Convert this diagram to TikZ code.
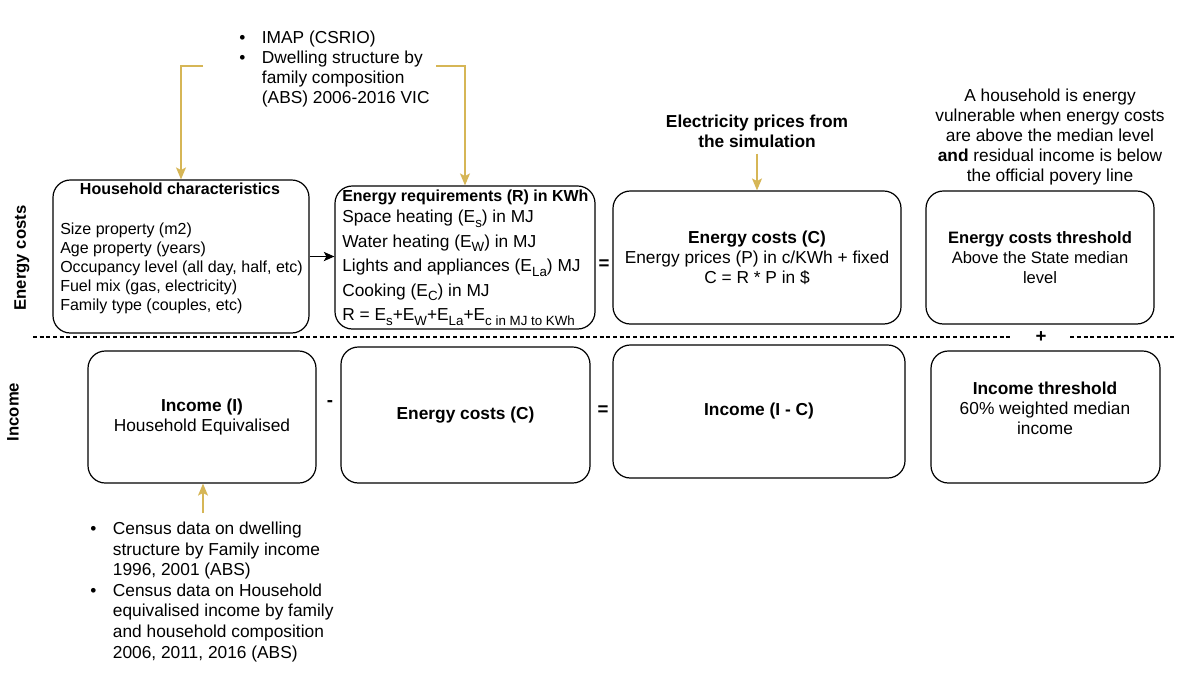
\documentclass[tikz,border=0pt]{standalone}
\usepackage{fontspec}
\setmainfont{Liberation Sans}
\usetikzlibrary{arrows.meta}
\definecolor{goldline}{HTML}{D6B656}
\newcommand{\txt}{\fontsize{13}{15}\selectfont}
\newcommand{\txts}{\fontsize{12}{15}\selectfont}
\newcommand{\blt}{\makebox[17pt][l]{\textbullet}}
\newcommand{\ind}{\hspace*{17pt}}
\newcommand{\sub}[1]{\raisebox{-3.2pt}{\fontsize{10}{10}\selectfont #1}}
\tikzset{
  box/.style={draw=black, line width=0.9pt, rounded corners=13pt, align=center, font=\txt},
  lbl/.style={inner sep=0pt, align=left, font=\txt},
  op/.style={inner sep=0pt, font=\fontsize{14}{15}\selectfont\bfseries},
  goldarr/.style={draw=goldline, line width=1pt, -{Stealth[inset=2pt, length=9pt, width=7.5pt]}},
  blackarr/.style={draw=black, line width=0.9pt, -{Stealth[inset=2pt, length=8pt, width=7pt]}},
  sep/.style={draw=black, line width=0.8pt, dash pattern=on 3pt off 2pt}
}
\begin{document}
\begin{tikzpicture}[x=0.75pt, y=-0.75pt]
    \useasboundingbox (0,0) rectangle (1192,694);

    % row labels
    \node[lbl, font=\fontsize{12.5}{15}\selectfont\bfseries, rotate=90] (rowcost) at (22,258) {Energy costs};
    \node[lbl, font=\fontsize{12.5}{15}\selectfont\bfseries, rotate=90] (rowinc) at (13,412) {Income};

    % energy costs row
    \node[box, minimum width=192pt, minimum height=114.75pt] (hc) at (181,256.5) {};
    \node[lbl, font=\txts\bfseries, anchor=north] (hctitle) at (180,183) {Household characteristics};
    \node[lbl, font=\fontsize{12}{14.25}\selectfont, anchor=north west] (hclist) at (60,223)
        {Size property (m2)\\Age property (years)\\Occupancy level (all day, half, etc)\\Fuel mix (gas, electricity)\\Family type (couples, etc)};

    \node[box, minimum width=195pt, minimum height=107.25pt] (er) at (465,257.5) {};
    \node[lbl, font=\txts\bfseries, anchor=north west] (ertitle) at (342,190) {Energy requirements (R) in KWh};
    \node[lbl, font=\fontsize{13}{18.4}\selectfont, anchor=north west] (erlist) at (342,210)
        {Space heating (E\sub{s}) in MJ\\ Water heating (E\sub{W}) in MJ\\ Lights and appliances (E\sub{La}) MJ\\ Cooking (E\sub{C}) in MJ\\ R = E\sub{s}+E\sub{W}+E\sub{La}+E\sub{c in MJ to KWh}};

    \node[box, minimum width=216pt, minimum height=99.75pt] (ec) at (757,257.5)
        {\textbf{Energy costs (C)}\\Energy prices (P) in c/KWh + fixed\\C = R * P in \$};
    \node[box, font=\fontsize{12.4}{15}\selectfont, minimum width=171pt, minimum height=99.75pt] (et) at (1040,257.5)
        {\textbf{Energy costs threshold}\\Above the State median\\level};

    % income row
    \node[box, minimum width=171pt, minimum height=99pt] (inc) at (202,417) {\textbf{Income (I)}\\Household Equivalised};
    \node[box, minimum width=186.75pt, minimum height=102pt] (ecb) at (465.5,415) {\textbf{Energy costs (C)}};
    \node[box, minimum width=219pt, minimum height=99.75pt] (net) at (759,411.5) {\textbf{Income (I - C)}};
    \node[box, minimum width=171.75pt, minimum height=99pt] (it) at (1045.5,417) {};
    \node[lbl, align=center] (ittext) at (1045,408) {\textbf{Income threshold}\\60\% weighted median\\income};

    % operators
    \node[op] (eq1) at (604,265) {=};
    \node[op] (minus) at (330,404) {-};
    \node[op] (eq2) at (603,411) {=};
    \node[op, minimum width=43.5pt] (plus) at (1041,337) {+};

    % divider
    \coordinate (divl) at (33,337);
    \coordinate (divr) at (1176,337);
    \draw[sep] (divl) -- (plus);
    \draw[sep] (plus) -- (divr);

    % sources
    \node[lbl, anchor=north west] (imap) at (239,31)
        {\blt IMAP (CSRIO)\\ \blt Dwelling structure by\\ \ind family composition\\ \ind (ABS) 2006-2016 VIC};
    \node[lbl, font=\txt\bfseries, align=center, anchor=north] (elec) at (757,115) {Electricity prices from\\the simulation};
    \node[lbl, align=center, anchor=north] (vuln) at (1050,89)
        {A household is energy\\vulnerable when energy costs\\are above the median level\\\textbf{and} residual income is below\\the official povery line};
    \node[lbl, font=\fontsize{13}{15.4}\selectfont, anchor=north west] (census) at (90,522)
        {\blt Census data on dwelling\\ \ind structure by Family income\\ \ind 1996, 2001 (ABS)\\ \blt Census data on Household\\ \ind equivalised income by family\\ \ind and household composition\\ \ind 2006, 2011, 2016 (ABS)};

    % connectors
    \coordinate (imapl) at (203,66);
    \coordinate (imapr) at (436,66);
    \coordinate (censustop) at (203,513);
    \draw[goldarr] (imapl) -| (hc.north);
    \draw[goldarr] (imapr) -| (er.north);
    \draw[goldarr] (censustop) -- (censustop |- inc.south);
    \draw[goldarr, shorten <=4pt] (elec) -- (ec);
    \draw[blackarr] (hc.east) -- (hc.east -| er.west);
\end{tikzpicture}
\end{document}
